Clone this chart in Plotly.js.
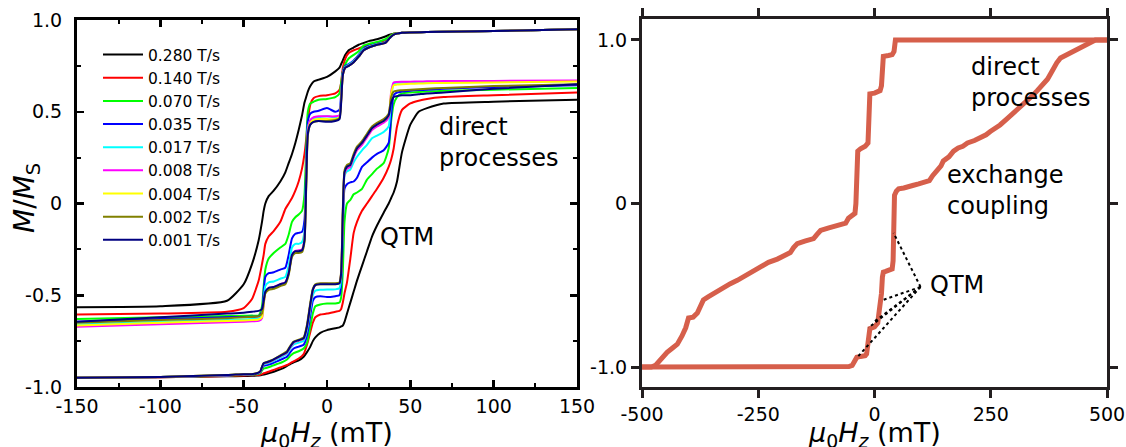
<!DOCTYPE html>
<html>
<head>
<meta charset="utf-8">
<script src="https://cdn.plot.ly/plotly-3.0.1.min.js"></script>
<style>html,body{margin:0;padding:0;background:#fff;}#chart{width:1126px;height:447px;}</style>
</head>
<body>
<div id="chart"></div>
<script>
// ---------- Left panel: sweep-rate dependent hysteresis ----------
const rateLabels = ['0.280 T/s','0.140 T/s','0.070 T/s','0.035 T/s','0.017 T/s','0.008 T/s','0.004 T/s','0.002 T/s','0.001 T/s'];
const rateColors = ['#000000','#ff0000','#00ff00','#0000ff','#00ffff','#ff00ff','#ffff00','#808000','#000080'];

// descending branch (from +150 mT down to -150 mT), field grid in mT
const xDown = [-150,-100,-60,-50,-45,-41,-39,-38,-37,-35,-32,-28,-25,-23,-21,-19,-17,-15,-13.5,-12.5,-11.5,-10,-8,-5,0,5,7.5,8.5,9.5,11,13,16,19,22,25,30,35,37.5,40,45,60,100,150];
const mDown280 = [-0.565,-0.56,-0.53,-0.44,-0.33,-0.2,-0.1,-0.04,0.0,0.04,0.07,0.12,0.17,0.22,0.27,0.33,0.4,0.48,0.55,0.58,0.61,0.64,0.665,0.675,0.69,0.72,0.74,0.76,0.78,0.81,0.835,0.85,0.865,0.875,0.885,0.895,0.91,0.92,0.925,0.93,0.935,0.94,0.95];
const mDown140 = [-0.605,-0.6,-0.59,-0.57,-0.52,-0.42,-0.33,-0.28,-0.22,-0.18,-0.15,-0.1,-0.03,0.0,0.03,0.07,0.12,0.19,0.27,0.35,0.45,0.54,0.575,0.585,0.59,0.6,0.62,0.66,0.74,0.79,0.82,0.835,0.845,0.855,0.865,0.875,0.89,0.91,0.925,0.93,0.935,0.94,0.95];
const mDown070 = [-0.63,-0.62,-0.613,-0.612,-0.611,-0.61,-0.56,-0.45,-0.36,-0.3,-0.27,-0.24,-0.22,-0.17,-0.1,-0.075,-0.06,-0.04,0.05,0.3,0.5,0.545,0.555,0.565,0.57,0.58,0.6,0.66,0.72,0.76,0.79,0.81,0.83,0.86,0.87,0.88,0.895,0.91,0.925,0.93,0.935,0.94,0.95];
const mDown035 = [-0.645,-0.63,-0.62,-0.618,-0.617,-0.615,-0.59,-0.48,-0.4,-0.38,-0.375,-0.36,-0.35,-0.28,-0.19,-0.165,-0.16,-0.155,-0.09,0.2,0.45,0.49,0.5,0.505,0.52,0.5,0.51,0.6,0.72,0.75,0.76,0.78,0.81,0.845,0.858,0.87,0.88,0.9,0.92,0.93,0.935,0.94,0.95];
const mDown017 = [-0.66,-0.645,-0.635,-0.632,-0.63,-0.628,-0.61,-0.53,-0.45,-0.43,-0.425,-0.41,-0.4,-0.34,-0.24,-0.22,-0.22,-0.21,-0.15,0.15,0.41,0.455,0.465,0.47,0.475,0.47,0.48,0.58,0.71,0.745,0.755,0.775,0.805,0.84,0.855,0.868,0.878,0.9,0.92,0.93,0.935,0.94,0.95];
const mDown008 = [-0.672,-0.658,-0.647,-0.644,-0.642,-0.64,-0.625,-0.55,-0.485,-0.465,-0.455,-0.44,-0.43,-0.38,-0.28,-0.258,-0.255,-0.25,-0.19,0.12,0.4,0.455,0.47,0.475,0.475,0.475,0.48,0.57,0.7,0.74,0.75,0.77,0.8,0.835,0.85,0.865,0.875,0.9,0.92,0.93,0.935,0.94,0.95];
const mDown004 = [-0.665,-0.65,-0.64,-0.637,-0.635,-0.632,-0.62,-0.55,-0.49,-0.47,-0.46,-0.445,-0.435,-0.385,-0.285,-0.265,-0.262,-0.255,-0.2,0.1,0.38,0.44,0.455,0.46,0.46,0.46,0.47,0.56,0.7,0.74,0.75,0.77,0.8,0.835,0.85,0.865,0.875,0.9,0.92,0.93,0.935,0.94,0.95];
const mDown002 = [-0.65,-0.635,-0.625,-0.62,-0.618,-0.615,-0.6,-0.54,-0.49,-0.47,-0.465,-0.45,-0.44,-0.39,-0.29,-0.27,-0.27,-0.265,-0.21,0.08,0.37,0.43,0.445,0.45,0.45,0.455,0.465,0.56,0.7,0.74,0.75,0.77,0.8,0.835,0.85,0.865,0.875,0.9,0.92,0.93,0.935,0.94,0.95];
const mDown001 = [-0.645,-0.62,-0.6,-0.595,-0.59,-0.585,-0.575,-0.53,-0.48,-0.46,-0.455,-0.44,-0.43,-0.38,-0.28,-0.26,-0.26,-0.255,-0.2,0.1,0.38,0.43,0.445,0.45,0.445,0.45,0.46,0.55,0.7,0.74,0.75,0.77,0.8,0.835,0.85,0.865,0.875,0.9,0.92,0.93,0.935,0.94,0.95];

// ascending branch (from -150 mT up to +150 mT)
const xUp = [-150,-100,-60,-50,-45,-42,-40,-39,-38,-36,-33,-30,-27,-24,-22,-20,-17,-14,-12,-10,-8.5,-7,-4,0,5,7.5,8.5,9.5,10.5,12,14,16,18,21,24,27,30,34,37,38.5,40,42,45,50,55,60,70,100,150];
const mUp280 = [-0.95,-0.947,-0.942,-0.94,-0.939,-0.938,-0.936,-0.934,-0.932,-0.928,-0.92,-0.91,-0.9,-0.885,-0.875,-0.865,-0.855,-0.835,-0.81,-0.78,-0.75,-0.73,-0.705,-0.69,-0.68,-0.675,-0.67,-0.665,-0.645,-0.6,-0.54,-0.48,-0.42,-0.34,-0.26,-0.18,-0.12,-0.05,0.0,0.03,0.06,0.12,0.28,0.43,0.5,0.52,0.545,0.555,0.565];
const mUp140 = [-0.95,-0.947,-0.94,-0.937,-0.936,-0.935,-0.933,-0.93,-0.925,-0.92,-0.91,-0.9,-0.89,-0.88,-0.87,-0.86,-0.845,-0.82,-0.77,-0.7,-0.65,-0.62,-0.605,-0.6,-0.59,-0.585,-0.575,-0.54,-0.49,-0.43,-0.3,-0.16,-0.1,-0.04,0.0,0.04,0.08,0.14,0.2,0.24,0.3,0.42,0.51,0.545,0.56,0.57,0.58,0.59,0.605];
const mUp070 = [-0.95,-0.946,-0.938,-0.935,-0.933,-0.93,-0.925,-0.91,-0.9,-0.895,-0.885,-0.875,-0.865,-0.85,-0.83,-0.815,-0.805,-0.79,-0.76,-0.67,-0.6,-0.56,-0.55,-0.545,-0.545,-0.54,-0.51,-0.37,-0.1,0.0,0.02,0.05,0.06,0.08,0.13,0.16,0.19,0.22,0.3,0.45,0.54,0.58,0.6,0.605,0.608,0.61,0.615,0.62,0.63];
const mUp035 = [-0.95,-0.946,-0.937,-0.933,-0.931,-0.928,-0.92,-0.9,-0.885,-0.88,-0.872,-0.86,-0.848,-0.835,-0.81,-0.79,-0.78,-0.77,-0.72,-0.61,-0.53,-0.51,-0.505,-0.51,-0.505,-0.5,-0.44,-0.15,0.08,0.105,0.115,0.12,0.14,0.2,0.225,0.25,0.27,0.29,0.33,0.48,0.59,0.605,0.61,0.615,0.618,0.62,0.625,0.635,0.645];
const mUp017 = [-0.95,-0.946,-0.936,-0.932,-0.93,-0.927,-0.918,-0.895,-0.877,-0.872,-0.862,-0.848,-0.834,-0.82,-0.79,-0.768,-0.758,-0.748,-0.69,-0.575,-0.5,-0.475,-0.47,-0.468,-0.468,-0.462,-0.4,-0.08,0.15,0.175,0.185,0.225,0.255,0.29,0.32,0.355,0.37,0.39,0.42,0.58,0.655,0.658,0.66,0.661,0.662,0.663,0.664,0.665,0.668];
const mUp008 = [-0.95,-0.946,-0.936,-0.932,-0.93,-0.926,-0.917,-0.893,-0.873,-0.868,-0.858,-0.843,-0.828,-0.813,-0.783,-0.758,-0.748,-0.738,-0.675,-0.555,-0.475,-0.445,-0.438,-0.438,-0.438,-0.432,-0.38,-0.06,0.16,0.19,0.2,0.25,0.29,0.32,0.36,0.4,0.42,0.44,0.47,0.61,0.66,0.662,0.663,0.664,0.665,0.666,0.667,0.668,0.67];
const mUp004 = [-0.95,-0.945,-0.935,-0.93,-0.93,-0.925,-0.915,-0.89,-0.87,-0.865,-0.855,-0.84,-0.825,-0.81,-0.78,-0.755,-0.745,-0.735,-0.67,-0.55,-0.47,-0.445,-0.44,-0.44,-0.44,-0.435,-0.38,-0.05,0.17,0.2,0.21,0.26,0.3,0.33,0.37,0.41,0.43,0.45,0.48,0.6,0.645,0.648,0.65,0.652,0.654,0.655,0.657,0.66,0.665];
const mUp002 = [-0.95,-0.945,-0.935,-0.93,-0.93,-0.925,-0.915,-0.89,-0.87,-0.863,-0.853,-0.838,-0.822,-0.805,-0.775,-0.752,-0.742,-0.73,-0.66,-0.54,-0.465,-0.44,-0.435,-0.435,-0.435,-0.43,-0.37,-0.03,0.18,0.21,0.22,0.27,0.31,0.34,0.38,0.42,0.44,0.46,0.49,0.58,0.61,0.615,0.617,0.62,0.622,0.625,0.63,0.64,0.65];
const mUp001 = [-0.95,-0.945,-0.935,-0.93,-0.93,-0.925,-0.915,-0.89,-0.87,-0.865,-0.855,-0.84,-0.825,-0.81,-0.78,-0.755,-0.745,-0.735,-0.67,-0.55,-0.47,-0.445,-0.44,-0.44,-0.44,-0.435,-0.38,-0.05,0.17,0.2,0.21,0.26,0.3,0.33,0.37,0.41,0.43,0.45,0.48,0.55,0.58,0.585,0.59,0.59,0.595,0.6,0.605,0.625,0.65];

const downSeries = [mDown280,mDown140,mDown070,mDown035,mDown017,mDown008,mDown004,mDown002,mDown001];
const upSeries = [mUp280,mUp140,mUp070,mUp035,mUp017,mUp008,mUp004,mUp002,mUp001];

// ---------- Right panel: single loop ----------
const loopDownX = [-500,-480,-471,-465,-455,-446,-435,-424,-414,-406,-400,-390,-381,-374,-368,-357,-346,-330,-310,-295,-282,-265,-245,-228,-209,-195,-181,-174,-166,-150,-131,-124,-116,-100,-85,-73,-62,-56,-47,-42,-40,-38,-36,-30,-20,-14,-12,-10,0,12,15,17,19,30,38,42,45,50,500];
const loopDownM = [-1.0,-1.0,-0.99,-0.97,-0.94,-0.91,-0.885,-0.86,-0.81,-0.76,-0.70,-0.695,-0.67,-0.63,-0.59,-0.57,-0.55,-0.52,-0.49,-0.47,-0.45,-0.42,-0.39,-0.36,-0.34,-0.32,-0.30,-0.27,-0.245,-0.23,-0.215,-0.19,-0.165,-0.15,-0.14,-0.135,-0.12,-0.09,-0.07,-0.06,0.0,0.3,0.32,0.335,0.35,0.37,0.65,0.67,0.675,0.69,0.72,0.9,0.9,0.905,0.91,0.93,1.0,1.0,1.0];
const loopUpX = [-500,-300,-100,-55,-48,-44,-41,-38,-30,-20,-17,-15,-13,-10,0,4,7,10,13,15,17,19,24,32,38,40,41.5,43,47,52,63,75,82,95,110,118,125,132,138,143,148,160,170,180,190,200,215,228,240,249,260,270,286,300,310,321,333,340,350,357,365,372,380,385,392,400,410,421,435,450,458,465,475,500];
const loopUpM = [-1.0,-1.0,-1.0,-0.997,-0.99,-0.975,-0.955,-0.94,-0.935,-0.93,-0.92,-0.87,-0.78,-0.765,-0.755,-0.745,-0.73,-0.66,-0.61,-0.55,-0.45,-0.42,-0.415,-0.41,-0.4,-0.35,-0.1,0.05,0.075,0.09,0.095,0.1,0.11,0.12,0.13,0.14,0.17,0.19,0.21,0.23,0.26,0.285,0.32,0.34,0.35,0.37,0.385,0.40,0.42,0.44,0.46,0.48,0.52,0.555,0.58,0.61,0.635,0.66,0.69,0.71,0.74,0.76,0.8,0.83,0.86,0.89,0.905,0.92,0.945,0.97,0.98,0.99,1.0,1.0];
const loopColor = '#d65f4b';

// QTM pointer lines (right panel): common origin and targets on the curve
const qtmOrigin = [99, -0.51];
const qtmTargetX = [41, 18, -4, -13, -37];
const qtmTargetM = [-0.18, -0.59, -0.73, -0.76, -0.94];

// tick labels
const leftXTicks = [-150,-100,-50,0,50,100,150];
const leftXText = ['-150','-100','-50','0','50','100','150'];
const leftYTicks = [-1,-0.5,0,0.5,1];
const leftYText = ['-1.0','-0.5','0','0.5','1.0'];
const leftXMinor = [-150,-125,-100,-75,-50,-25,0,25,50,75,100,125,150];
const leftYMinor = [-1,-0.75,-0.5,-0.25,0,0.25,0.5,0.75,1];
const rightXTicks = [-500,-250,0,250,500];
const rightXText = ['-500','-250','0','250','500'];
const rightYTicks = [-1,0,1];
const rightYText = ['-1.0','0','1.0'];

const FONT = 'DejaVu Sans';
const traces = [];
for (let i = 0; i < rateLabels.length; i++) {
  traces.push({x: xDown, y: downSeries[i], type: 'scatter', mode: 'lines', name: rateLabels[i],
    legendgroup: 'g'+i, line: {color: rateColors[i], width: 2, shape: 'spline', smoothing: 0.5},
    xaxis: 'x', yaxis: 'y'});
  traces.push({x: xUp, y: upSeries[i], type: 'scatter', mode: 'lines', name: rateLabels[i],
    legendgroup: 'g'+i, showlegend: false, line: {color: rateColors[i], width: 2, shape: 'spline', smoothing: 0.5},
    xaxis: 'x', yaxis: 'y'});
}
const qx = [], qy = [];
for (let k = 0; k < qtmTargetX.length; k++) {
  qx.push(qtmOrigin[0], qtmTargetX[k], null);
  qy.push(qtmOrigin[1], qtmTargetM[k], null);
}
traces.push({x: loopDownX, y: loopDownM, type: 'scatter', mode: 'lines', showlegend: false,
  line: {color: loopColor, width: 5}, xaxis: 'x2', yaxis: 'y2'});
traces.push({x: loopUpX, y: loopUpM, type: 'scatter', mode: 'lines', showlegend: false,
  line: {color: loopColor, width: 5}, xaxis: 'x2', yaxis: 'y2'});
traces.push({x: qx, y: qy, type: 'scatter', mode: 'lines', showlegend: false, connectgaps: false,
  line: {color: '#000', width: 2, dash: 'dot'}, xaxis: 'x2', yaxis: 'y2'});

const H = 447, W = 1126;
const leftAxisCommon = {showgrid: false, zeroline: false, showline: true, linecolor: '#000', linewidth: 3,
  mirror: 'allticks', ticks: 'inside', ticklen: 7, tickwidth: 2.5, tickcolor: '#000',
  tickfont: {family: FONT, size: 19, color: '#000'}, tickmode: 'array'};
const rightAxisCommon = {showgrid: false, zeroline: false, showline: true, linecolor: '#231f20', linewidth: 3,
  mirror: 'allticks', ticks: 'outside', ticklen: 8, tickwidth: 3, tickcolor: '#231f20',
  tickfont: {family: FONT, size: 19, color: '#000'}, tickmode: 'array'};

const layout = {
  width: W, height: H, margin: {l: 0, r: 0, t: 0, b: 0},
  paper_bgcolor: '#fff', plot_bgcolor: 'rgba(0,0,0,0)',
  font: {family: FONT, color: '#000'},
  showlegend: true,
  legend: {x: 98/W, y: 1 - 38/H, xanchor: 'left', yanchor: 'top', bgcolor: 'rgba(0,0,0,0)',
    font: {family: FONT, size: 15.5, color: '#000'}, tracegroupgap: 0, itemwidth: 40},
  xaxis: Object.assign({}, leftAxisCommon, {domain: [77/W, 577/W], range: [-150, 150], anchor: 'y',
    tickvals: leftXTicks, ticktext: leftXText,
    minor: {tickmode: 'array', tickvals: leftXMinor, ticks: 'inside', ticklen: 4, tickwidth: 2, tickcolor: '#000'}}),
  yaxis: Object.assign({}, leftAxisCommon, {domain: [1 - 387/H, 1 - 20/H], range: [-1, 1], anchor: 'x',
    tickvals: leftYTicks, ticktext: leftYText, ticklabelstandoff: 8,
    minor: {tickmode: 'array', tickvals: leftYMinor, ticks: 'inside', ticklen: 4, tickwidth: 2, tickcolor: '#000'}}),
  xaxis2: Object.assign({}, rightAxisCommon, {domain: [642/W, 1107/W], range: [-500, 500], anchor: 'y2',
    tickvals: rightXTicks, ticktext: rightXText}),
  yaxis2: Object.assign({}, rightAxisCommon, {domain: [1 - 387/H, 1 - 19/H], range: [-1.122, 1.128], anchor: 'x2',
    tickvals: rightYTicks, ticktext: rightYText}),
  annotations: [
    {xref: 'paper', yref: 'paper', x: 326/W, y: 1 - 434/H, xanchor: 'center', yanchor: 'middle', showarrow: false,
      text: '<i>μ</i><sub>0</sub><i>H</i><sub><i>z</i></sub> (mT)', font: {family: FONT, size: 27, color: '#000'}},
    {xref: 'paper', yref: 'paper', x: 874/W, y: 1 - 434/H, xanchor: 'center', yanchor: 'middle', showarrow: false,
      text: '<i>μ</i><sub>0</sub><i>H</i><sub><i>z</i></sub> (mT)', font: {family: FONT, size: 27, color: '#000'}},
    {xref: 'paper', yref: 'paper', x: 26/W, y: 1 - 198/H, xanchor: 'center', yanchor: 'middle', showarrow: false,
      textangle: -90, text: '<i>M</i>/<i>M</i><sub>S</sub>', font: {family: FONT, size: 28, color: '#000'}},
    {xref: 'x', yref: 'y', x: 66, y: 0.33, xanchor: 'left', yanchor: 'middle', align: 'left', showarrow: false,
      text: 'direct<br>processes', font: {family: FONT, size: 24, color: '#000'}},
    {xref: 'x', yref: 'y', x: 30.5, y: -0.18, xanchor: 'left', yanchor: 'middle', showarrow: false,
      text: 'QTM', font: {family: FONT, size: 24, color: '#000'}},
    {xref: 'x2', yref: 'y2', x: 204, y: 0.74, xanchor: 'left', yanchor: 'middle', align: 'left', showarrow: false,
      text: 'direct<br>processes', font: {family: FONT, size: 24, color: '#000'}},
    {xref: 'x2', yref: 'y2', x: 152, y: 0.08, xanchor: 'left', yanchor: 'middle', align: 'left', showarrow: false,
      text: 'exchange<br>coupling', font: {family: FONT, size: 24, color: '#000'}},
    {xref: 'x2', yref: 'y2', x: 114, y: -0.5, xanchor: 'left', yanchor: 'middle', showarrow: false,
      text: 'QTM', font: {family: FONT, size: 24, color: '#000'}}
  ]
};

Plotly.newPlot('chart', traces, layout, {displayModeBar: false, staticPlot: true});
</script>
</body>
</html>
